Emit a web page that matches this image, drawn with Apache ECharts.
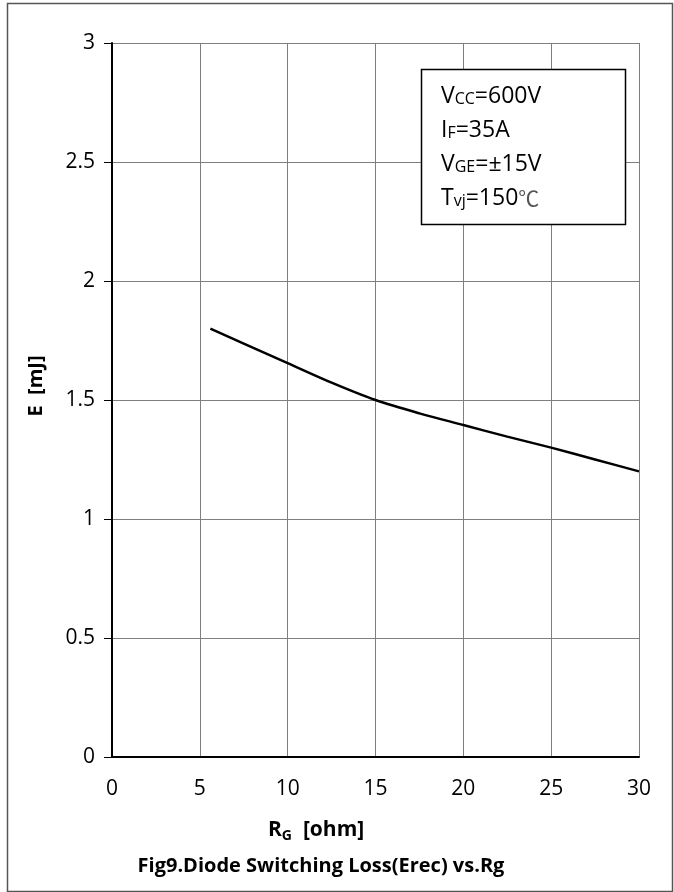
<!DOCTYPE html>
<html>
<head>
<meta charset="utf-8">
<script src="https://cdn.jsdelivr.net/npm/echarts@6/dist/echarts.min.js"></script>
<style>
  html, body { margin: 0; padding: 0; background: #fff; }
  #chart { width: 674px; height: 892px; }
</style>
</head>
<body>
<div id="chart"></div>
<script>
// Rg [ohm] vs Erec [mJ]
var rg = [5.6, 7.5, 10, 12.5, 15, 17.5, 20, 22.5, 25, 27.5, 30];
var erec = [1.80, 1.737, 1.655, 1.573, 1.50, 1.444, 1.395, 1.346, 1.30, 1.25, 1.20];
var xTicks = [0, 5, 10, 15, 20, 25, 30];
var yTicks = [0, 0.5, 1, 1.5, 2, 2.5, 3];
var conditions = [
  'V{s|CC}=600V',
  'I{s|F}=35A',
  'V{s|GE}=±15V',
  'T{s|vj}=150{c|℃}'
];

var myChart = echarts.init(document.getElementById('chart'));
var font = '"Open Sans", sans-serif';

var option = {
  backgroundColor: '#fff',
  animation: false,
  grid: { left: 112, right: 35, top: 43, bottom: 135 },
  xAxis: {
    type: 'value',
    min: xTicks[0],
    max: xTicks[xTicks.length - 1],
    interval: 5,
    axisLine: { lineStyle: { color: '#000', width: 2 } },
    axisTick: { show: false },
    axisLabel: { color: '#000', fontSize: 21, fontFamily: font, margin: 22 },
    splitLine: { show: true, lineStyle: { color: '#7f7f7f', width: 1 } }
  },
  yAxis: {
    type: 'value',
    min: yTicks[0],
    max: yTicks[yTicks.length - 1],
    interval: 0.5,
    name: 'E  [mJ]',
    nameLocation: 'middle',
    nameGap: 66,
    nameTextStyle: { color: '#000', fontSize: 20, fontWeight: 'bold', fontFamily: font, padding: [0, 0, 0, 28] },
    axisLine: { lineStyle: { color: '#000', width: 2 } },
    axisTick: { show: true, inside: false, length: 8, lineStyle: { color: '#000', width: 1 } },
    axisLabel: { color: '#000', fontSize: 21, fontFamily: font, margin: 17 },
    splitLine: { show: true, lineStyle: { color: '#7f7f7f', width: 1 } }
  },
  series: [{
    type: 'line',
    data: rg.map(function (x, i) { return [x, erec[i]]; }),
    smooth: 0.3,
    symbol: 'none',
    lineStyle: { color: '#000', width: 2.5 }
  }],
  graphic: [
    {
      type: 'rect',
      shape: { x: 7.5, y: 3.5, width: 665, height: 888 },
      style: { fill: null, stroke: '#555', lineWidth: 1.5 },
      silent: true
    },
    {
      type: 'rect',
      shape: { x: 421.5, y: 69.5, width: 204, height: 155 },
      style: { fill: '#fff', stroke: '#000', lineWidth: 1.5 },
      z: 10
    },
    {
      type: 'text',
      left: 441,
      top: 79,
      z: 11,
      style: {
        text: conditions.join('\n'),
        fill: '#000',
        font: '23px "Open Sans", sans-serif',
        lineHeight: 34,
        rich: {
          s: { fontSize: 16, fontFamily: font, fill: '#000', verticalAlign: 'middle', lineHeight: 18, padding: [7, 0, 0, 0] },
          c: { fontSize: 21, fontFamily: '"Noto Sans CJK SC"', fill: '#555', verticalAlign: 'middle', lineHeight: 34 }
        }
      }
    },
    {
      type: 'text',
      left: 268,
      top: 817,
      style: {
        text: '{b|R}{s|G}{b|  [ohm]}',
        fill: '#000',
        rich: {
          b: { fontSize: 21, fontWeight: 'bold', fontFamily: font, fill: '#000', verticalAlign: 'middle', lineHeight: 30 },
          s: { fontSize: 14, fontWeight: 'bold', fontFamily: font, fill: '#000', verticalAlign: 'middle', lineHeight: 16, padding: [12, 0, 0, 0] }
        }
      }
    },
    {
      type: 'text',
      x: 321,
      y: 866,
      style: {
        text: 'Fig9.Diode Switching Loss(Erec) vs.Rg',
        fill: '#000',
        font: 'bold 20px "Open Sans", sans-serif',
        align: 'center',
        verticalAlign: 'middle'
      }
    }
  ]
};
myChart.setOption(option, true);
</script>
</body>
</html>
